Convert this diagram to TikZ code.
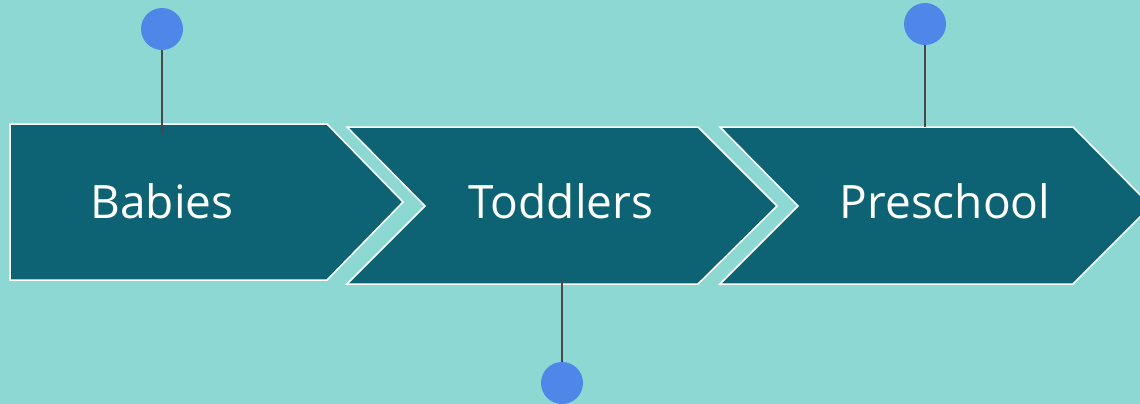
\documentclass[tikz,border=0pt]{standalone}
\usepackage{fontspec}
\setmainfont{Open Sans}
\definecolor{bgTeal}{RGB}{141,216,211}
\definecolor{stageTeal}{RGB}{13,99,115}
\definecolor{pinBlue}{RGB}{78,135,232}
\definecolor{stemGray}{RGB}{72,72,72}
\usetikzlibrary{positioning}

\begin{document}
\begin{tikzpicture}[
    x=1pt, y=-1pt,
    stage/.style={draw=white, line width=1.5pt, fill=stageTeal, line join=miter},
    stagetext/.style={text=white, anchor=base, font=\fontsize{46}{50}\selectfont},
    pin/.style={circle, fill=pinBlue, minimum size=42pt, inner sep=0pt},
    stem/.style={stemGray, line width=2pt},
  ]
    \fill[bgTeal] (0,0) rectangle (1140,404);
    \useasboundingbox (0,0) rectangle (1140,404);
    % Babies
    \draw[stage] (10,124) -- (327,124) -- (403,202) -- (327,280) -- (10,280) -- cycle;
    \node[stagetext] (babies) at (162,218) {Babies};
    % Toddlers
    \draw[stage] (347,127) -- (698,127) -- (777,206) -- (698,284) -- (347,284) -- (425,206) -- cycle;
    \node[stagetext] (toddlers) at (561,218) {Toddlers};
    % Preschool
    \draw[stage] (720,127) -- (1073,127) -- (1151,206) -- (1073,284) -- (720,284) -- (798,206) -- cycle;
    \node[stagetext] (preschool) at (945,218) {Preschool};
    % pins
    \node[pin] (babiesPin) at (162,29) {};
    \coordinate (babiesStem) at (162,133);
    \draw[stem] (babiesPin) -- (babiesStem);
    \node[pin] (toddlersPin) at (562,383) {};
    \coordinate (toddlersStem) at (562,280);
    \draw[stem] (toddlersStem) -- (toddlersPin);
    \node[pin] (preschoolPin) at (925,24) {};
    \coordinate (preschoolStem) at (925,127);
    \draw[stem] (preschoolPin) -- (preschoolStem);
  \end{tikzpicture}
\end{document}
